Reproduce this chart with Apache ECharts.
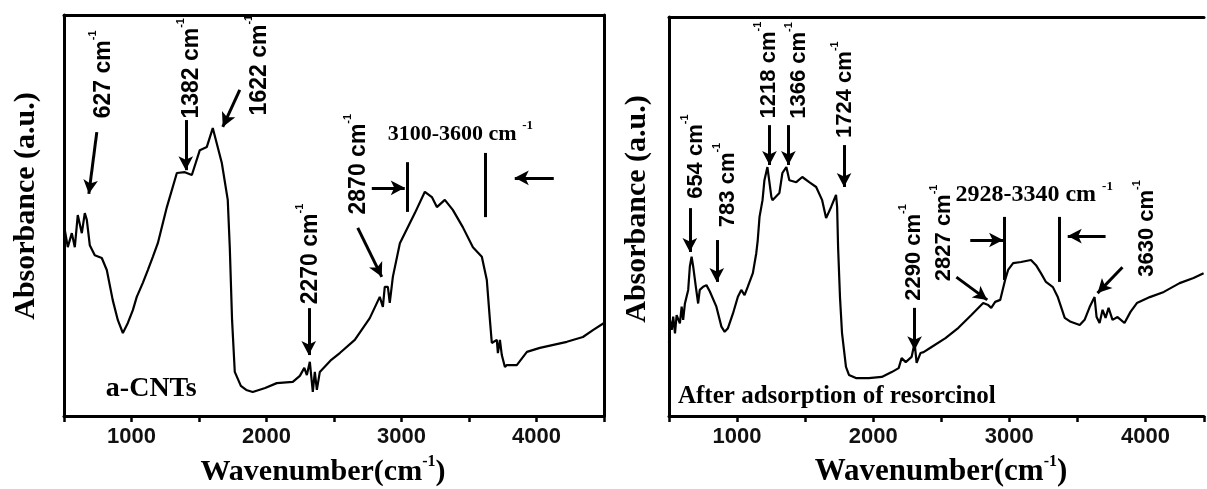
<!DOCTYPE html>
<html><head><meta charset="utf-8">
<script src="https://cdn.jsdelivr.net/npm/echarts@6/dist/echarts.min.js"></script>
<style>html,body{margin:0;padding:0;background:#fff}#c{width:1207px;height:489px}</style>
</head><body><div id="c"></div>
<script>
// ---------- data (wavenumber cm-1, absorbance a.u.) ----------
const xLabelValues = [1000, 2000, 3000, 4000];

const leftSpectrum = [
  [500,43.9],[506,46.4],[528,42.1],[558,45.6],[580,42.1],[602,50.1],[632,45.6],[654,50.6],[669,48.9],
  [691,42.6],[728,40.1],[780,39.4],[817,36.4],[861,28.9],[899,23.9],[936,20.7],[973,23.2],[1010,26.4],
  [1039,29.7],[1084,33.2],[1121,36.4],[1158,39.7],[1195,43.1],[1262,52.1],[1336,60.6],[1395,60.8],
  [1447,60.1],[1506,66.3],[1558,67.1],[1602,71.8],[1669,63.1],[1713,53.9],[1728,42.1],[1745,23.9],
  [1765,11.0],[1810,7.5],[1850,6.5],[1898,6.0],[1990,7.0],[2076,8.2],[2195,8.5],[2247,10.0],[2280,12.0],
  [2299,10.2],[2321,13.5],[2343,6.0],[2358,11.0],[2373,6.5],[2395,11.0],[2480,14.0],[2543,15.7],
  [2654,19.0],[2765,24.4],[2839,29.7],[2862,27.2],[2876,32.2],[2899,32.2],[2913,28.2],[2936,34.7],
  [2988,43.1],[3099,50.6],[3173,55.9],[3225,54.6],[3262,52.1],[3321,53.9],[3380,51.4],[3454,47.1],
  [3529,42.1],[3595,39.7],[3632,33.9],[3655,23.9],[3669,18.2],[3706,19.0],[3714,15.7],[3729,19.0],
  [3743,15.2],[3766,12.2],[3780,12.7],[3854,12.7],[3929,16.0],[4025,17.0],[4225,18.5],[4344,19.7],
  [4418,21.4],[4500,23.2]
];

const rightSpectrum = [
  [500,18.2],[507,24.1],[520,21.6],[531,24.9],[544,20.7],[556,25.3],[580,23.2],[593,27.4],[604,24.1],
  [617,28.2],[641,31.6],[653,37.4],[666,39.9],[678,37.4],[697,32.4],[714,28.2],[726,31.6],[751,32.4],
  [775,32.8],[800,31.2],[848,27.4],[885,22.4],[909,21.1],[933,22.0],[970,25.7],[1006,29.9],[1031,31.6],
  [1055,30.3],[1079,32.4],[1116,35.8],[1141,40.8],[1152,44.1],[1165,49.9],[1187,54.1],[1201,59.1],
  [1223,62.4],[1252,54.9],[1260,54.1],[1311,55.9],[1333,60.9],[1362,62.4],[1384,59.1],[1435,58.6],
  [1479,59.9],[1530,58.6],[1581,57.4],[1625,54.1],[1654,49.6],[1691,52.4],[1727,55.4],[1735,52.4],
  [1742,42.4],[1756,29.8],[1771,20.8],[1800,12.3],[1822,10.3],[1873,9.5],[1968,9.5],[2063,9.8],
  [2136,11.0],[2187,12.0],[2209,14.5],[2239,13.5],[2282,14.8],[2304,18.3],[2319,13.3],[2348,15.8],
  [2370,16.0],[2429,17.3],[2531,19.5],[2626,22.1],[2721,25.3],[2808,28.3],[2845,27.8],[2867,27.1],
  [2896,28.6],[2933,29.1],[2969,34.1],[2991,36.6],[3028,38.3],[3086,38.6],[3159,39.1],[3196,37.8],
  [3232,35.8],[3269,33.6],[3320,32.3],[3356,29.8],[3407,24.6],[3451,23.6],[3517,22.8],[3553,24.1],
  [3590,27.3],[3626,29.8],[3641,24.8],[3663,23.3],[3685,26.6],[3707,24.6],[3729,27.1],[3758,24.1],
  [3795,24.8],[3846,23.3],[3890,26.1],[3937,28.3],[4032,29.8],[4135,31.1],[4251,33.3],[4353,34.6],
  [4427,35.8]
];

// peak annotations
const leftPeakNames = ['627', '1382', '1622', '2270', '2870'];
const leftPeakLabelAt = [[791,85.2],[1447,86.7],[1950,87.5],[2328,40.4],[2684,62.8]];
const leftArrows = [
  [[743,70.8],[684,55.4]], [[1402,73.8],[1402,61.3]], [[1802,81.3],[1676,72.1]],
  [[2313,26.9],[2313,15.2]], [[2676,46.9],[2854,34.7]],
  [[2780,56.9],[3024,56.9]], [[4128,59.4],[3839,59.4]]
];
const leftBars = [[[3039,63.3],[3039,50.9]], [[3624,65.6],[3624,49.6]]];
const leftRangeText = '3100-3600';
const leftRangeAt = [2898, 70.2];
const leftSampleText = 'a-CNTs';
const leftSampleAt = [810, 6.9];

const rightPeakNames = ['654', '783', '1218', '1366', '1724', '2290', '2827', '3630'];
const rightPeakLabelAt = [[697,65.0],[931,57.9],[1231,86.7],[1457,86.6],[1793,81.8],[2297,41.0],[2523,45.9],[4014,47.0]];
const rightArrows = [
  [[653,52.1],[653,41.1]], [[851,44.1],[851,33.6]], [[1238,72.9],[1238,62.9]],
  [[1377,72.9],[1377,62.9]], [[1786,67.9],[1786,57.4]], [[2304,27.1],[2304,16.5]],
  [[2611,34.8],[2838,29.1]], [[3831,37.3],[3648,30.8]],
  [[2713,44.1],[2954,44.1]], [[3707,45.1],[3429,45.1]]
];
const rightBars = [[[2962,49.9],[2962,34.1]], [[3364,49.9],[3364,33.6]]];
const rightRangeText = '2928-3340';
const rightRangeAt = [2604, 55.4];
const rightSampleText = 'After adsorption of resorcinol';
const rightSampleAt = [566, 4.9];

// ---------- chart ----------
const SANS = 'Liberation Sans, Arial, sans-serif';
const SERIF = 'Liberation Serif, Times New Roman, serif';
const chart = echarts.init(document.getElementById('c'), null, {renderer: 'canvas'});

function markLines(arrows, bars) {
  const d = [];
  arrows.forEach(a => d.push([{coord: a[0], symbol: 'none'}, {coord: a[1], symbol: 'arrow', symbolSize: [11, 14]}]));
  bars.forEach(b => d.push([{coord: b[0], symbol: 'none'}, {coord: b[1], symbol: 'none'}]));
  return {silent: true, animation: false, symbol: ['none', 'none'], label: {show: false},
    itemStyle: {color: '#000'},
    lineStyle: {color: '#000', width: 3, type: 'solid', opacity: 1}, emphasis: {disabled: true}, data: d};
}
const noBorder = {color: '#000', textBorderWidth: 0, textBorderColor: 'transparent', textShadowBlur: 0};
function vertRich(fs) {
  return {
    t: Object.assign({fontFamily: SANS, fontWeight: 'bold', fontSize: fs, lineHeight: 32}, noBorder),
    s: Object.assign({fontFamily: SANS, fontWeight: 'bold', fontSize: 11, lineHeight: 12, verticalAlign: 'top'}, noBorder)
  };
}
function horRich(fs) {
  return {
    t: Object.assign({fontFamily: SERIF, fontWeight: 'bold', fontSize: fs, lineHeight: 30}, noBorder),
    s: Object.assign({fontFamily: SERIF, fontWeight: 'bold', fontSize: 13, lineHeight: 14, verticalAlign: 'top'}, noBorder)
  };
}
function labelSeries(xi, names, pos, fs, rangeText, rangeAt, rangeFs, sampleText, sampleAt, sampleFs) {
  const data = names.map((n, i) => ({
    value: pos[i],
    label: {rotate: 90, align: 'center', formatter: '{t|' + n + ' cm}{s|-1}', rich: vertRich(fs)}
  }));
  data.push({value: rangeAt, label: {rotate: 0, align: 'left', formatter: '{t|' + rangeText + ' cm }{s|-1}', rich: horRich(rangeFs)}});
  data.push({value: sampleAt, label: {rotate: 0, align: 'left', formatter: '{t|' + sampleText + '}',
    rich: {t: Object.assign({fontFamily: SERIF, fontWeight: 'bold', fontSize: sampleFs}, noBorder)}}});
  return {type: 'scatter', xAxisIndex: xi, yAxisIndex: xi, symbolSize: 0, silent: true, animation: false,
    itemStyle: {color: '#000', opacity: 1},
    label: Object.assign({show: true, position: 'inside', verticalAlign: 'middle', opacity: 1}, noBorder),
    emphasis: {disabled: true}, data: data, z: 5};
}
function bottomAxis(gi, max) {
  return {type: 'value', gridIndex: gi, min: 500, max: max, interval: 500, position: 'bottom',
    axisLine: {show: true, onZero: false, lineStyle: {color: '#000', width: 3}},
    axisTick: {show: true, inside: false, length: 6, lineStyle: {color: '#000', width: 2.5}},
    axisLabel: {show: true, margin: 10, color: '#111', fontFamily: SANS, fontWeight: 'bold', fontSize: 22,
      formatter: v => (xLabelValues.indexOf(v) >= 0 ? String(v) : '')},
    splitLine: {show: false}};
}
function topAxis(gi, max) {
  return {type: 'value', gridIndex: gi, min: 500, max: max, position: 'top',
    axisLine: {show: true, onZero: false, lineStyle: {color: '#000', width: 3}},
    axisTick: {show: false}, axisLabel: {show: false}, splitLine: {show: false}};
}
function yAx(gi, pos, show) {
  return {type: 'value', gridIndex: gi, min: 0, max: 100, position: pos,
    axisLine: {show: show, onZero: false, lineStyle: {color: '#000', width: 3}},
    axisTick: {show: false}, axisLabel: {show: false}, splitLine: {show: false}};
}
const lineStyle = {color: '#000', width: 2.2};

chart.setOption({
  animation: false,
  backgroundColor: '#fff',
  grid: [
    {left: 64, top: 15, width: 540, height: 401},
    {left: 669, top: 17, width: 538, height: 399}
  ],
  xAxis: [bottomAxis(0, 4500), bottomAxis(1, 4430), topAxis(0, 4500), topAxis(1, 4430)],
  yAxis: [yAx(0, 'left', true), yAx(1, 'left', true), yAx(0, 'right', true)],
  series: [
    {type: 'line', xAxisIndex: 0, yAxisIndex: 0, data: leftSpectrum, symbol: 'none', lineStyle: lineStyle,
      itemStyle: {color: '#000'}, emphasis: {disabled: true}, silent: true, markLine: markLines(leftArrows, leftBars)},
    {type: 'line', xAxisIndex: 1, yAxisIndex: 1, data: rightSpectrum, symbol: 'none', lineStyle: lineStyle,
      itemStyle: {color: '#000'}, emphasis: {disabled: true}, silent: true, markLine: markLines(rightArrows, rightBars)},
    labelSeries(0, leftPeakNames, leftPeakLabelAt, 23, leftRangeText, leftRangeAt, 22, leftSampleText, leftSampleAt, 28),
    labelSeries(1, rightPeakNames, rightPeakLabelAt, 22, rightRangeText, rightRangeAt, 24, rightSampleText, rightSampleAt, 25)
  ],
  graphic: [
    {type: 'text', x: 26, y: 206, rotation: Math.PI / 2, silent: true,
      style: {text: 'Absorbance (a.u.)', font: 'bold 30px ' + SERIF, fill: '#000', align: 'center', verticalAlign: 'middle'}},
    {type: 'text', x: 637, y: 209, rotation: Math.PI / 2, silent: true,
      style: {text: 'Absorbance (a.u.)', font: 'bold 30px ' + SERIF, fill: '#000', align: 'center', verticalAlign: 'middle'}},
    {type: 'text', x: 323, y: 472, silent: true,
      style: {text: '{t|Wavenumber(cm}{s|-1}{t|)}', align: 'center', verticalAlign: 'middle',
        rich: {t: {font: 'bold 30px ' + SERIF, fill: '#000', lineHeight: 36},
               s: {font: 'bold 16px ' + SERIF, fill: '#000', lineHeight: 18, verticalAlign: 'top'}}}},
    {type: 'text', x: 941, y: 472, silent: true,
      style: {text: '{t|Wavenumber(cm}{s|-1}{t|)}', align: 'center', verticalAlign: 'middle',
        rich: {t: {font: 'bold 31px ' + SERIF, fill: '#000', lineHeight: 36},
               s: {font: 'bold 16px ' + SERIF, fill: '#000', lineHeight: 18, verticalAlign: 'top'}}}}
  ]
});
</script>
</body></html>
